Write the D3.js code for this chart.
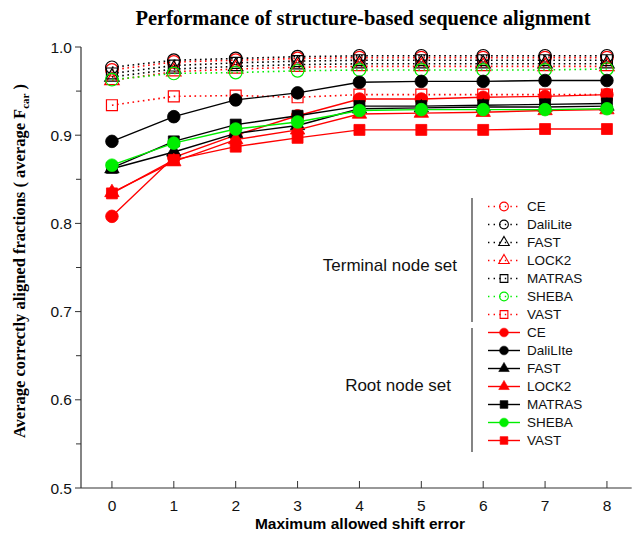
<!DOCTYPE html>
<html>
<head>
<meta charset="utf-8">
<script src="https://cdn.jsdelivr.net/npm/d3@7"></script>
<style>
  html, body { margin: 0; padding: 0; background: #fff; }
  svg { display: block; }
</style>
</head>
<body>
<svg id="chart" width="634" height="535"></svg>
<script>
// Maximum allowed shift error (x values)
const shifts = [0, 1, 2, 3, 4, 5, 6, 7, 8];
const yTicks = [0.5, 0.6, 0.7, 0.8, 0.9, 1.0];

// Terminal node set (dotted lines, open markers)
const termCE       = [0.974, 0.983, 0.985, 0.987, 0.988, 0.988, 0.988, 0.988, 0.988];
const termDaliLite = [0.977, 0.985, 0.987, 0.989, 0.990, 0.990, 0.990, 0.990, 0.990];
const termFAST     = [0.966, 0.975, 0.978, 0.980, 0.981, 0.981, 0.981, 0.981, 0.981];
const termLOCK2    = [0.962, 0.972, 0.975, 0.977, 0.978, 0.978, 0.978, 0.978, 0.978];
const termMATRAS   = [0.970, 0.979, 0.982, 0.984, 0.985, 0.985, 0.985, 0.985, 0.985];
const termSHEBA    = [0.963, 0.970, 0.971, 0.973, 0.974, 0.974, 0.974, 0.974, 0.975];
const termVAST     = [0.934, 0.944, 0.945, 0.943, 0.946, 0.946, 0.946, 0.946, 0.946];

// Root node set (solid lines, filled markers)
const rootCE       = [0.808, 0.875, 0.900, 0.922, 0.941, 0.941, 0.943, 0.944, 0.946];
const rootDaliLite = [0.893, 0.921, 0.940, 0.948, 0.960, 0.961, 0.961, 0.962, 0.962];
const rootFAST     = [0.862, 0.881, 0.902, 0.911, 0.930, 0.931, 0.932, 0.932, 0.933];
const rootLOCK2    = [0.835, 0.870, 0.895, 0.906, 0.924, 0.925, 0.926, 0.928, 0.929];
const rootMATRAS   = [0.863, 0.893, 0.912, 0.922, 0.933, 0.933, 0.934, 0.935, 0.936];
const rootSHEBA    = [0.866, 0.891, 0.907, 0.915, 0.928, 0.929, 0.929, 0.929, 0.930];
const rootVAST     = [0.834, 0.872, 0.887, 0.897, 0.906, 0.906, 0.906, 0.907, 0.907];

const RED = "#ff0000", BLACK = "#000000", GREEN = "#00ee00";

const terminalSeries = [
  { name: "CE",       values: termCE,       color: RED,   shape: "circle" },
  { name: "DaliLite", values: termDaliLite, color: BLACK, shape: "circle" },
  { name: "FAST",     values: termFAST,     color: BLACK, shape: "triangle" },
  { name: "LOCK2",    values: termLOCK2,    color: RED,   shape: "triangle" },
  { name: "MATRAS",   values: termMATRAS,   color: BLACK, shape: "square" },
  { name: "SHEBA",    values: termSHEBA,    color: GREEN, shape: "circle" },
  { name: "VAST",     values: termVAST,     color: RED,   shape: "square" }
];
const rootSeries = [
  { name: "CE",       values: rootCE,       color: RED,   shape: "circle" },
  { name: "DaliLIte", values: rootDaliLite, color: BLACK, shape: "circle" },
  { name: "FAST",     values: rootFAST,     color: BLACK, shape: "triangle" },
  { name: "LOCK2",    values: rootLOCK2,    color: RED,   shape: "triangle" },
  { name: "MATRAS",   values: rootMATRAS,   color: BLACK, shape: "square" },
  { name: "SHEBA",    values: rootSHEBA,    color: GREEN, shape: "circle" },
  { name: "VAST",     values: rootVAST,     color: RED,   shape: "square" }
];

const svg = d3.select("#chart");
const x = d3.scaleLinear().domain([-0.5, 8.4]).range([81, 81 + 8.9 * 61.875]);
const y = d3.scaleLinear().domain([0.5, 1.0]).range([488, 47]);

const symType = { circle: d3.symbolCircle, square: d3.symbolSquare, triangle: d3.symbolTriangle };
function symbolPath(shape, big) {
  const sizes = big
    ? { circle: 125, square: 120, triangle: 90 }
    : { circle: 60, square: 60, triangle: 48 };
  return d3.symbol().type(symType[shape]).size(sizes[shape])();
}

// Title
svg.append("text")
  .attr("x", 363).attr("y", 25)
  .attr("text-anchor", "middle")
  .attr("font-family", "'Liberation Serif', 'Times New Roman', serif")
  .attr("font-weight", "bold").attr("font-size", 20.5)
  .text("Performance of structure-based sequence alignment");

// Y axis
const yAxis = svg.append("g").attr("transform", `translate(${x(-0.5)},0)`);
yAxis.append("line").attr("x1", 0).attr("x2", 0).attr("y1", y(1.0)).attr("y2", y(0.5))
  .attr("stroke", "#333").attr("stroke-width", 1.2);
const minorY = d3.range(0.55, 1.0, 0.1);
yAxis.selectAll(".ymin").data(minorY).join("line")
  .attr("x1", -5).attr("x2", 0).attr("y1", d => y(d)).attr("y2", d => y(d))
  .attr("stroke", "#333").attr("stroke-width", 1);
yAxis.selectAll(".ymaj").data(yTicks).join("line")
  .attr("x1", -6).attr("x2", 0).attr("y1", d => y(d)).attr("y2", d => y(d))
  .attr("stroke", "#333").attr("stroke-width", 1);
yAxis.selectAll(".ylab").data(yTicks).join("text")
  .attr("x", -9).attr("y", d => y(d)).attr("dy", "0.36em")
  .attr("text-anchor", "end")
  .attr("font-family", "'Liberation Sans', Arial, sans-serif").attr("font-size", 15.5)
  .attr("fill", "#111")
  .text(d => d3.format(".1f")(d));

// X axis
const xAxis = svg.append("g").attr("transform", `translate(0,${y(0.5)})`);
xAxis.append("line").attr("x1", x(-0.5)).attr("x2", x(8.4)).attr("y1", 0).attr("y2", 0)
  .attr("stroke", "#333").attr("stroke-width", 1.2);
xAxis.selectAll(".xt").data(shifts).join("line")
  .attr("x1", d => x(d)).attr("x2", d => x(d)).attr("y1", 0).attr("y2", -7)
  .attr("stroke", "#333").attr("stroke-width", 1);
xAxis.selectAll(".xl").data(shifts).join("text")
  .attr("x", d => x(d)).attr("y", 23)
  .attr("text-anchor", "middle")
  .attr("font-family", "'Liberation Sans', Arial, sans-serif").attr("font-size", 15.5)
  .attr("fill", "#111")
  .text(d => d);

// Axis titles
svg.append("text")
  .attr("x", 360).attr("y", 529)
  .attr("text-anchor", "middle")
  .attr("font-family", "'Liberation Sans', Arial, sans-serif")
  .attr("font-weight", "bold").attr("font-size", 15.5)
  .text("Maximum allowed shift error");

const yTitle = svg.append("text")
  .attr("transform", "translate(25,261) rotate(-90)")
  .attr("text-anchor", "middle")
  .attr("font-family", "'Liberation Serif', 'Times New Roman', serif")
  .attr("font-weight", "bold").attr("font-size", 16.5);
yTitle.append("tspan").text("Average correctly aligned fractions (  average F");
yTitle.append("tspan").attr("font-size", 11).attr("dy", 4).text("car");
yTitle.append("tspan").attr("dy", -4).text(" )");

// Series drawing
const line = d3.line().x((d, i) => x(shifts[i])).y(d => y(d));
const plot = svg.append("g");

function drawSeries(s, dotted) {
  const g = plot.append("g");
  g.append("path")
    .attr("d", line(s.values))
    .attr("fill", "none")
    .attr("stroke", s.color)
    .attr("stroke-width", dotted ? 1.6 : 1.4)
    .attr("stroke-dasharray", dotted ? "1.6,3.6" : null);
  g.selectAll("path.m").data(s.values).join("path")
    .attr("class", "m")
    .attr("transform", (d, i) => `translate(${x(shifts[i])},${y(d)})`)
    .attr("d", symbolPath(s.shape, true))
    .attr("fill", dotted ? "none" : s.color)
    .attr("stroke", s.color)
    .attr("stroke-width", dotted ? 1.2 : 0.8);
}
terminalSeries.forEach(s => drawSeries(s, true));
rootSeries.forEach(s => drawSeries(s, false));

// Legend
const legend = svg.append("g");
const rowY = i => 206.5 + i * 18;
legend.append("line").attr("x1", 472).attr("x2", 472).attr("y1", 198).attr("y2", 322)
  .attr("stroke", "#333").attr("stroke-width", 1.2);
legend.append("line").attr("x1", 472).attr("x2", 472).attr("y1", 328).attr("y2", 452)
  .attr("stroke", "#333").attr("stroke-width", 1.2);

function legendRow(s, i, dotted) {
  const yy = rowY(i);
  legend.append("line")
    .attr("x1", 488).attr("x2", 520).attr("y1", yy).attr("y2", yy)
    .attr("stroke", s.color).attr("stroke-width", 1.4)
    .attr("stroke-dasharray", dotted ? "1.4,4.2" : null);
  legend.append("path")
    .attr("transform", `translate(504,${yy})`)
    .attr("d", symbolPath(s.shape, false))
    .attr("fill", dotted ? "none" : s.color)
    .attr("stroke", s.color).attr("stroke-width", dotted ? 1.1 : 0.6);
  legend.append("text")
    .attr("x", 527).attr("y", yy).attr("dy", "0.36em")
    .attr("font-family", "'Liberation Sans', Arial, sans-serif").attr("font-size", 13.5)
    .attr("fill", "#111")
    .text(s.name);
}
terminalSeries.forEach((s, i) => legendRow(s, i, true));
rootSeries.forEach((s, i) => legendRow(s, i + 7, false));

legend.append("text")
  .attr("x", 457).attr("y", 265).attr("dy", "0.36em")
  .attr("text-anchor", "end")
  .attr("font-family", "'Liberation Sans', Arial, sans-serif").attr("font-size", 17)
  .attr("fill", "#111")
  .text("Terminal node set");
legend.append("text")
  .attr("x", 451).attr("y", 385).attr("dy", "0.36em")
  .attr("text-anchor", "end")
  .attr("font-family", "'Liberation Sans', Arial, sans-serif").attr("font-size", 17)
  .attr("fill", "#111")
  .text("Root node set");
</script>
</body>
</html>
